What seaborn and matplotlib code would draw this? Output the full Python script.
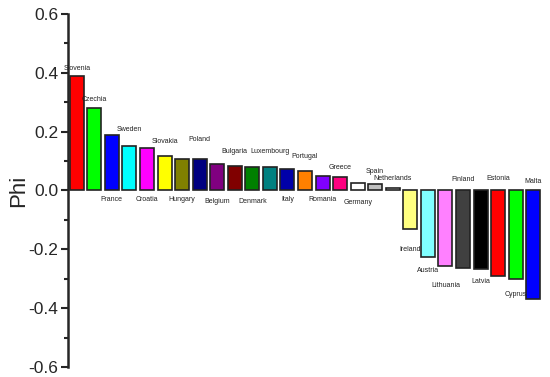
import matplotlib
matplotlib.use("Agg")
import matplotlib.pyplot as plt
import seaborn as sns
from matplotlib.ticker import MultipleLocator, FormatStrFormatter

countries = ["Slovenia", "Czechia", "France", "Sweden", "Croatia", "Slovakia", "Hungary",
             "Poland", "Belgium", "Bulgaria", "Denmark", "Luxembourg", "Italy", "Portugal",
             "Romania", "Greece", "Germany", "Spain", "Netherlands", "Ireland", "Austria",
             "Lithuania", "Finland", "Latvia", "Estonia", "Cyprus", "Malta"]
phi = [0.389, 0.281, 0.189, 0.151, 0.146, 0.118, 0.107, 0.107, 0.091, 0.082, 0.080,
       0.079, 0.074, 0.066, 0.048, 0.045, 0.027, 0.023, 0.009, -0.132, -0.226,
       -0.256, -0.262, -0.267, -0.290, -0.302, -0.370]
colors = ["#FF0000", "#00FF00", "#0000FF", "#00FFFF", "#FF00FF", "#FFFF00", "#808000",
          "#000080", "#800080", "#800000", "#008000", "#008080", "#0000A8", "#FF8000",
          "#8000FF", "#FF0080", "#FFFFFF", "#C0C0C0", "#FFFFFF", "#FFFF80", "#80FFFF",
          "#FF80FF", "#404040", "#000000", "#FF0000", "#00FF00", "#0000FF"]

# where each label sits: "top" above the upper end, "bot" below the lower end
label_side = ["top", "top", "bot", "top", "bot", "top", "bot", "top", "bot", "top", "bot",
              "top", "bot", "top", "bot", "top", "bot", "top", "top", "bot", "bot",
              "bot", "top", "bot", "top", "bot", "top"]
label_gap = [3, 3.5, 4, 9.5, 4, 8, 4, 11.5, 5.5, 8, 5.5, 8.5, 4, 8, 4, 4.5, 6, 6.5, 4.5,
             12, 7, 12, 5.5, 6.5, 6, 8.5, 4]

sns.set_style("ticks")
plt.rcParams["font.family"] = ["Liberation Sans", "DejaVu Sans"]

fig = plt.figure(figsize=(5.5, 3.77), dpi=100)
ax = fig.add_axes([0.1236, 0.0265, 0.865, 0.9365])

sns.barplot(x=countries, y=phi, hue=countries, palette=colors, legend=False,
            width=0.8, edgecolor="#222222", linewidth=1.2, ax=ax, saturation=1)

for i, (name, v) in enumerate(zip(countries, phi)):
    top = max(v, 0)
    bot = min(v, 0)
    if label_side[i] == "top":
        ax.annotate(name, (i, top), xytext=(0, label_gap[i]), textcoords="offset points",
                    ha="center", va="bottom", fontsize=5, color="#222222")
    else:
        ax.annotate(name, (i, bot), xytext=(0, -label_gap[i]), textcoords="offset points",
                    ha="center", va="top", fontsize=5, color="#222222")

ax.set_ylim(-0.6, 0.6)
ax.set_xlim(-0.5, 26.6)
ax.yaxis.set_major_locator(MultipleLocator(0.2))
ax.yaxis.set_minor_locator(MultipleLocator(0.1))
ax.yaxis.set_major_formatter(FormatStrFormatter("%.1f"))
ax.tick_params(axis="y", which="major", length=5, width=1.5, labelsize=12.5, pad=2)
ax.tick_params(axis="y", which="minor", length=3, width=1.5)
ax.set_xticks([])
ax.set_xlabel("")
ax.set_ylabel("Phi", fontsize=16)
ax.yaxis.set_label_coords(-0.082, 0.5)
for s in ["top", "right", "bottom"]:
    ax.spines[s].set_visible(False)
ax.spines["left"].set_linewidth(1.8)

fig.savefig("out.png", dpi=100)
